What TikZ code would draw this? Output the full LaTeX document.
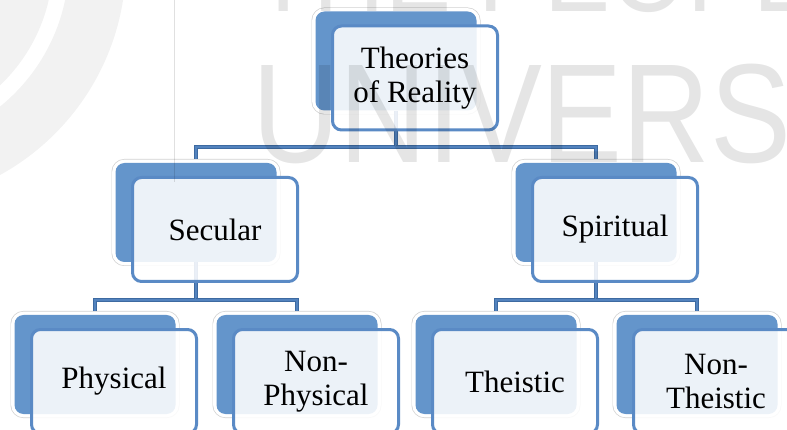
\documentclass[tikz,border=0pt]{standalone}
\usepackage{fontspec}
\setmainfont{Liberation Serif}
\newfontfamily\wmfont{Liberation Sans}
\definecolor{backblue}{HTML}{6495CB}
\definecolor{frontblue}{HTML}{5A8AC5}
\definecolor{connblue}{HTML}{3D6AA1}
\definecolor{conninner}{HTML}{5383BE}
\tikzset{
  backbox/.style={rectangle, rounded corners=9pt, fill=backblue, minimum width=161pt, minimum height=99pt, inner sep=0pt,
    preaction={draw=black!18, line width=8pt, rounded corners=9pt},
    preaction={draw=white, line width=6.6pt, rounded corners=9pt}},
  frontbox/.style={rectangle, rounded corners=9pt, draw=frontblue, line width=3pt, fill=white, fill opacity=0.88, text opacity=1,
    minimum width=165pt, minimum height=104pt, inner sep=0pt, align=center, font=\fontsize{31}{34}\selectfont},
  conn/.style={draw=connblue, line width=1.1pt, double=conninner, double distance=2.4pt},
  wm/.style={anchor=base west, inner sep=0pt, text=black, text opacity=0.1}
}
\begin{document}
\begin{tikzpicture}[x={(1pt,0pt)}, y={(0pt,-1pt)}]
\useasboundingbox (0,0) rectangle (787,430);
\clip (0,0) rectangle (787,430);
\fill[white] (0,0) rectangle (787,430);
% junctions
\coordinate (j1) at (396,147);
\coordinate (j2) at (196,300);
\coordinate (j3) at (596,300);
% back boxes
\node[backbox] (top) at (396,61) {};
\node[backbox] (sec) at (196,212.5) {};
\node[backbox] (spi) at (596,212.5) {};
\node[backbox] (phy) at (95,364.5) {};
\node[backbox] (nph) at (297,364.5) {};
\node[backbox] (the) at (496,364.5) {};
\node[backbox] (nth) at (697,364.5) {};
% connectors
\draw[conn] (top.south) -- (j1) -| ([yshift=4pt]sec.north);
\draw[conn] (j1) -| ([yshift=4pt]spi.north);
\draw[conn] (sec.south) -- (j2) -| ([yshift=4pt]phy.north);
\draw[conn] (j2) -| ([yshift=4pt]nph.north);
\draw[conn] (spi.south) -- (j3) -| ([yshift=4pt]the.north);
\draw[conn] (j3) -| ([yshift=4pt]nth.north);
% front boxes
\node[frontbox] (topf) at (415,78) {Theories\\of Reality};
\node[frontbox] (secf) at (215,229.5) {Secular};
\node[frontbox] (spif) at (615,229.5) {Spiritual};
\node[frontbox] (phyf) at (114,381.5) {Physical};
\node[frontbox] (nphf) at (316,381.5) {Non-\\Physical};
\node[frontbox] (thef) at (515,381.5) {Theistic};
\node[frontbox] (nthf) at (716,381.5) {Non-\\Theistic};
% watermark overlay
\fill[black, fill opacity=0.05, even odd rule] (-117,-38) circle[radius=243pt] (-117,-38) circle[radius=186pt] (-117,-38) circle[radius=170pt];
\draw[black, opacity=0.12, line width=1pt] (174,0) -- (174,182);
\node[wm, font=\wmfont\fontsize{141}{141}\selectfont] (wm1) at (252,163) {\scalebox{0.86}[1]{UNIVERSITY}};
\node[wm, font=\wmfont\fontsize{115}{115}\selectfont] (wm2) at (253,12) {\scalebox{0.86}[1]{THE PEOPLE'S}};
\end{tikzpicture}
\end{document}
